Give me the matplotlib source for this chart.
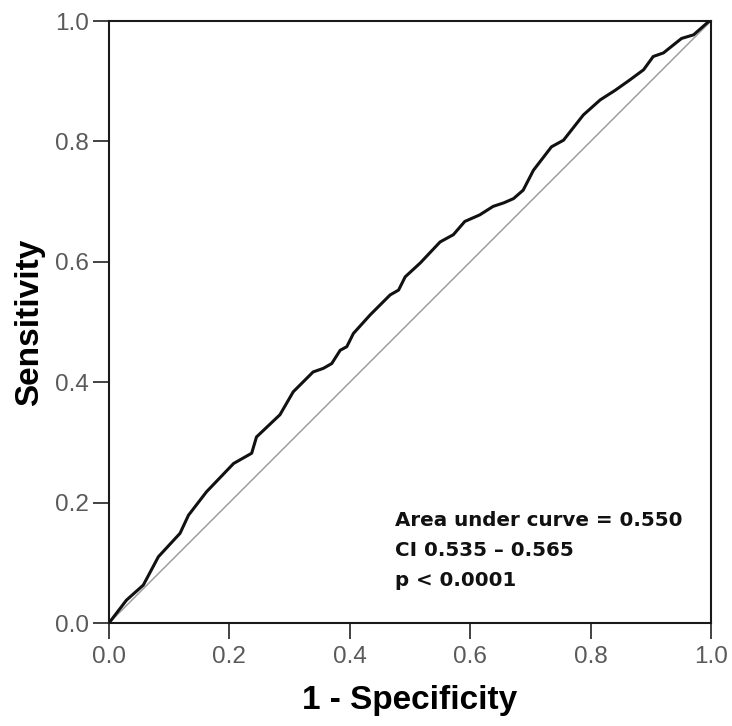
import matplotlib
matplotlib.use("Agg")
import matplotlib.pyplot as plt

# ROC curve values
fpr = [0.0, 0.029, 0.057, 0.082, 0.118, 0.132, 0.162, 0.207, 0.237, 0.245, 0.284,
       0.306, 0.339, 0.356, 0.370, 0.384, 0.395, 0.406, 0.434, 0.467, 0.481,
       0.492, 0.517, 0.550, 0.572, 0.591, 0.616, 0.638, 0.656, 0.672, 0.688,
       0.705, 0.735, 0.755, 0.788, 0.816, 0.841, 0.865, 0.888, 0.904, 0.921,
       0.951, 0.971, 0.996, 1.0]
tpr = [0.0, 0.038, 0.063, 0.110, 0.149, 0.179, 0.218, 0.265, 0.282, 0.309, 0.346,
       0.384, 0.417, 0.423, 0.431, 0.453, 0.459, 0.481, 0.512, 0.545, 0.553,
       0.575, 0.598, 0.633, 0.645, 0.667, 0.678, 0.692, 0.698, 0.705, 0.719,
       0.752, 0.791, 0.802, 0.844, 0.869, 0.885, 0.902, 0.919, 0.941, 0.947,
       0.971, 0.977, 0.999, 1.0]
ref_line = [0.0, 1.0]
ticks = [0.0, 0.2, 0.4, 0.6, 0.8, 1.0]
tick_labels = ["0.0", "0.2", "0.4", "0.6", "0.8", "1.0"]
annotation = ["Area under curve = 0.550", "CI 0.535 \u2013 0.565", "p < 0.0001"]

fig = plt.figure(figsize=(7.32, 7.26), dpi=100)
ax = fig.add_axes([109/732, 103/726, 602/732, 602/726])

ax.plot(ref_line, ref_line, color="#a0a0a0", lw=1.1, zorder=2)
ax.plot(fpr, tpr, color="#111111", lw=2.2, zorder=3)

ax.set_xlim(0, 1)
ax.set_ylim(0, 1)
ax.set_xticks(ticks)
ax.set_xticklabels(tick_labels)
ax.set_yticks(ticks)
ax.set_yticklabels(tick_labels)
for lab in ax.get_xticklabels() + ax.get_yticklabels():
    lab.set_family("Liberation Sans")
    lab.set_fontsize(17.5)
    lab.set_color("#5a5a5a")
ax.tick_params(direction="out", length=11.5, width=1.2, color="#222222")
ax.tick_params(axis="y", pad=3)
ax.tick_params(axis="x", pad=5)

for sp in ax.spines.values():
    sp.set_linewidth(1.5)
    sp.set_color("#1a1a1a")

ax.set_xlabel("1 - Specificity", family="Liberation Sans", fontsize=24,
              fontweight="bold", labelpad=12)
ax.set_ylabel("Sensitivity", family="Liberation Sans", fontsize=24,
              fontweight="bold", labelpad=7)

for i, line in enumerate(annotation):
    ax.text(0.475, 0.171 - i * 0.050, line, transform=ax.transAxes,
            family="DejaVu Sans", fontweight="bold", fontsize=14.3,
            va="center", ha="left", color="#111111")

fig.savefig("out.png", dpi=100)
